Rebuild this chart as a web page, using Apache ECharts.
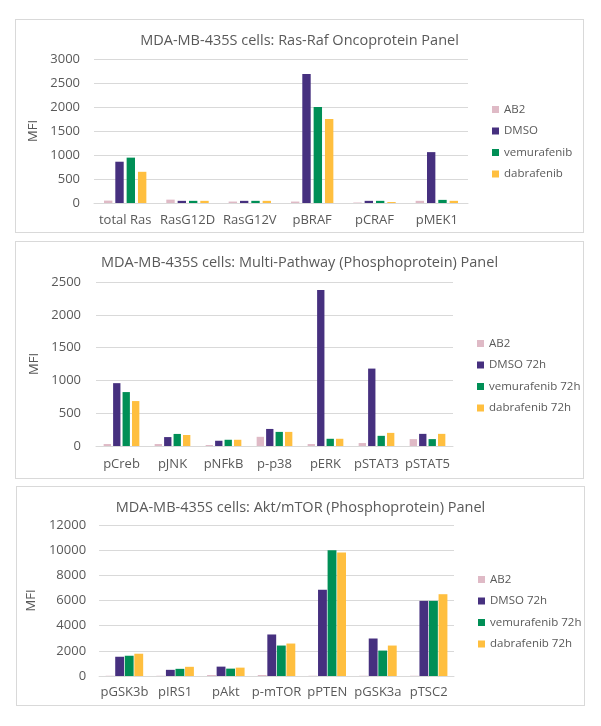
<!DOCTYPE html>
<html>
<head>
<meta charset="utf-8">
<script src="https://cdn.jsdelivr.net/npm/echarts@6/dist/echarts.min.js"></script>
<style>
  html, body { margin: 0; padding: 0; background: #fff; }
  .panel { position: absolute; border: 1px solid #d9d9d9; box-sizing: border-box; background: #fff; }
</style>
</head>
<body>
<div id="p1" class="panel" style="left:15px; top:19px; width:569px; height:214px;"></div>
<div id="p2" class="panel" style="left:15px; top:241px; width:569px; height:238px;"></div>
<div id="p3" class="panel" style="left:16px; top:486px; width:569px; height:220px;"></div>
<script>
// panel 1: Ras-Raf
const rasCategories = ['total Ras', 'RasG12D', 'RasG12V', 'pBRAF', 'pCRAF', 'pMEK1'];
const rasNames = ['AB2', 'DMSO', 'vemurafenib', 'dabrafenib'];
const rasAB2 = [50, 70, 30, 30, 10, 45];
const rasDMSO = [860, 45, 45, 2690, 45, 1060];
const rasVemurafenib = [945, 45, 45, 2000, 45, 65];
const rasDabrafenib = [650, 45, 45, 1750, 20, 45];

// panel 2: multi-pathway
const multiCategories = ['pCreb', 'pJNK', 'pNFkB', 'p-p38', 'pERK', 'pSTAT3', 'pSTAT5'];
const multiNames = ['AB2', 'DMSO 72h', 'vemurafenib 72h', 'dabrafenib 72h'];
const multiAB2 = [30, 30, 15, 140, 30, 45, 105];
const multiDMSO = [958, 136, 80, 260, 2378, 1180, 185];
const multiVemurafenib = [822, 184, 95, 215, 110, 155, 105];
const multiDabrafenib = [685, 168, 95, 215, 110, 200, 185];

// panel 3: Akt/mTOR
const aktCategories = ['pGSK3b', 'pIRS1', 'pAkt', 'p-mTOR', 'pPTEN', 'pGSK3a', 'pTSC2'];
const aktNames = ['AB2', 'DMSO 72h', 'vemurafenib 72h', 'dabrafenib 72h'];
const aktAB2 = [20, 20, 80, 80, 20, 20, 20];
const aktDMSO = [1530, 490, 745, 3300, 6860, 2980, 5970];
const aktVemurafenib = [1610, 570, 585, 2420, 10000, 2020, 5970];
const aktDabrafenib = [1770, 730, 665, 2580, 9810, 2420, 6500];

const colors = ['#dfbac6', '#46307f', '#008f56', '#ffbf3f'];
const textColor = '#595959';
const font = "'Open Sans', sans-serif";

function makePanel(id, cfg) {
    const chart = echarts.init(document.getElementById(id), null, { renderer: 'canvas' });
    const option = {
        animation: false,
        color: colors,
        textStyle: { fontFamily: font },
        title: {
            text: cfg.title,
            left: 'center',
            top: cfg.titleTop,
            textStyle: { fontFamily: font, fontSize: 14.5, fontWeight: 'normal', color: textColor }
        },
        legend: {
            orient: 'vertical',
            left: cfg.legendLeft,
            top: cfg.legendTop,
            itemWidth: 7,
            itemHeight: 7,
            itemGap: 9.5,
            icon: 'rect',
            data: cfg.names,
            textStyle: { fontFamily: font, fontSize: 11.5, color: textColor }
        },
        grid: {
            left: cfg.grid[0],
            top: cfg.grid[1],
            width: cfg.grid[2],
            height: cfg.grid[3]
        },
        xAxis: {
            type: 'category',
            data: cfg.categories,
            axisLine: { lineStyle: { color: '#d9d9d9' } },
            axisTick: { show: false },
            axisLabel: { color: textColor, fontSize: 13, fontFamily: font, margin: cfg.xMargin, interval: 0 }
        },
        yAxis: {
            type: 'value',
            min: 0,
            max: cfg.max,
            interval: cfg.interval,
            name: 'MFI',
            nameLocation: 'middle',
            nameGap: cfg.nameGap,
            nameTextStyle: { color: textColor, fontSize: 13, fontFamily: font },
            axisLine: { show: false },
            axisTick: { show: false },
            axisLabel: {
                color: textColor, fontSize: 13, fontFamily: font, margin: cfg.yMargin,
                formatter: (v) => String(v)
            },
            splitLine: { lineStyle: { color: '#d9d9d9' } }
        },
        series: cfg.values.map((vals, i) => ({
            name: cfg.names[i],
            type: 'bar',
            data: vals,
            barGap: cfg.barGap,
            barCategoryGap: cfg.barCategoryGap
        }))
    };
    chart.setOption(option);
    return chart;
}

makePanel('p1', {
    title: 'MDA-MB-435S cells: Ras-Raf Oncoprotein Panel',
    titleTop: 8,
    categories: rasCategories,
    names: rasNames,
    values: [rasAB2, rasDMSO, rasVemurafenib, rasDabrafenib],
    max: 3000, interval: 500,
    grid: [78, 39, 374, 144],
    legendLeft: 471, legendTop: 78.5,
    xMargin: 11, yMargin: 14, nameGap: 49,
    barGap: '35%', barCategoryGap: '32%'
});

makePanel('p2', {
    title: 'MDA-MB-435S cells: Multi-Pathway (Phosphoprotein) Panel',
    titleTop: 8,
    categories: multiCategories,
    names: multiNames,
    values: [multiAB2, multiDMSO, multiVemurafenib, multiDabrafenib],
    max: 2500, interval: 500,
    grid: [80, 40, 357, 164],
    legendLeft: 456, legendTop: 90.5,
    xMargin: 12, yMargin: 15, nameGap: 49,
    barGap: '29%', barCategoryGap: '30%'
});

makePanel('p3', {
    title: 'MDA-MB-435S cells: Akt/mTOR (Phosphoprotein) Panel',
    titleTop: 8,
    categories: aktCategories,
    names: aktNames,
    values: [aktAB2, aktDMSO, aktVemurafenib, aktDabrafenib],
    max: 12000, interval: 2000,
    grid: [77, 38, 360, 151],
    legendLeft: 456, legendTop: 81.5,
    xMargin: 10, yMargin: 13, nameGap: 48,
    barGap: '8%', barCategoryGap: '26%'
});
</script>
</body>
</html>
